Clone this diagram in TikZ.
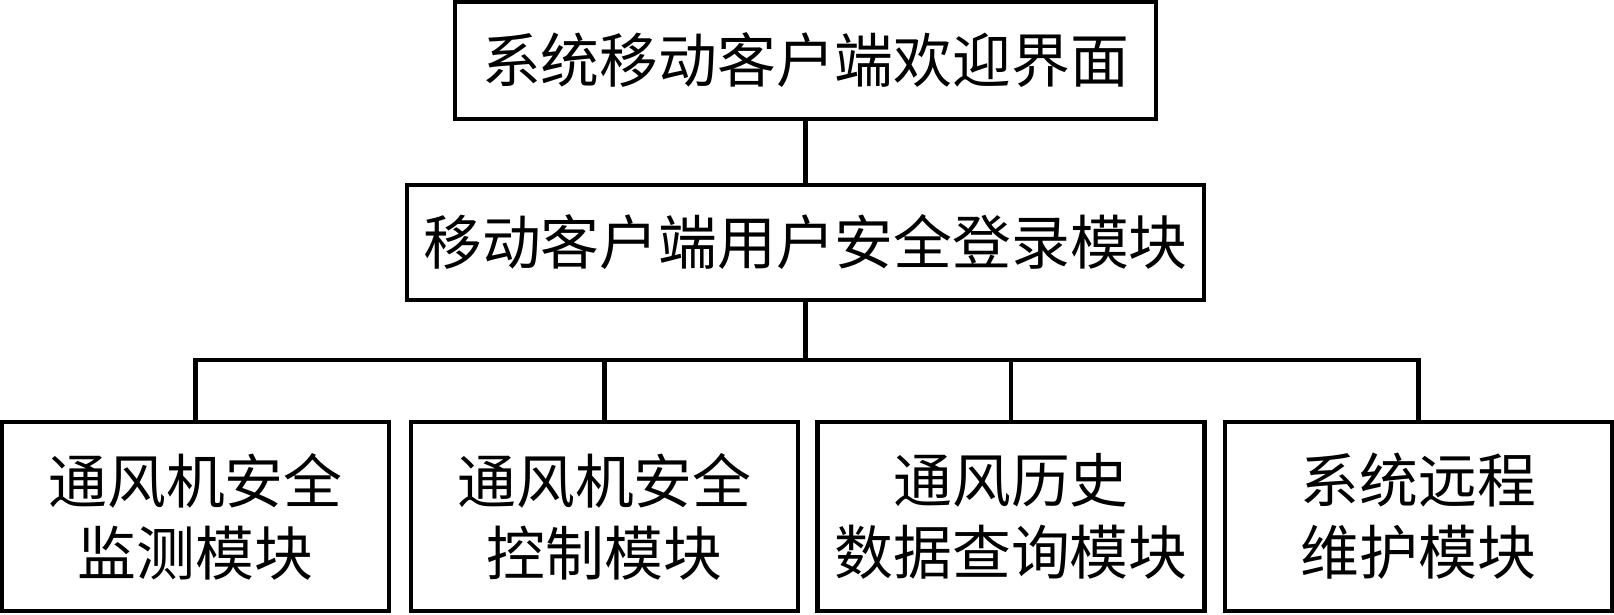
\documentclass[tikz,border=0pt]{standalone}
\usepackage{fontspec}
\setmainfont{Noto Sans CJK SC}
\usepackage{tikz}
\tikzset{
  modbox/.style={draw,line width=2.2pt,inner sep=0pt,align=center,
    font=\fontsize{29.4pt}{36pt}\selectfont},
  topbox/.style={modbox,minimum width=350.5pt,minimum height=58.5pt},
  loginbox/.style={modbox,minimum width=398.5pt,minimum height=57.5pt},
  subbox/.style={modbox,minimum width=193.5pt,minimum height=94.5pt},
  wire/.style={line width=2.2pt}
}

\begin{document}
\begin{tikzpicture}[x=0.5pt,y=-0.5pt]
  \useasboundingbox (0,0) rectangle (1614,615);

  \node[topbox] (welcome) at (805.5,60.5) {系统移动客户端欢迎界面};
  \node[loginbox] (login) at (805.5,242.5) {移动客户端用户安全登录模块};

  \node[subbox] (monitor) at (195.5,516.5) {通风机安全\\监测模块};
  \node[subbox] (control) at (604.5,516.5) {通风机安全\\控制模块};
  \node[subbox] (history) at (1011,516.5) {通风历史\\数据查询模块};
  \node[subbox] (remote) at (1418.5,516.5) {系统远程\\维护模块};

  \coordinate (bus) at (805.5,360);

  \draw[wire] (welcome) -- (login);
  \draw[wire] (login) -- (bus);
  \foreach \m in {monitor,control,history,remote} {
    \draw[wire] (bus) -| (\m.north);
  }
\end{tikzpicture}
\end{document}
